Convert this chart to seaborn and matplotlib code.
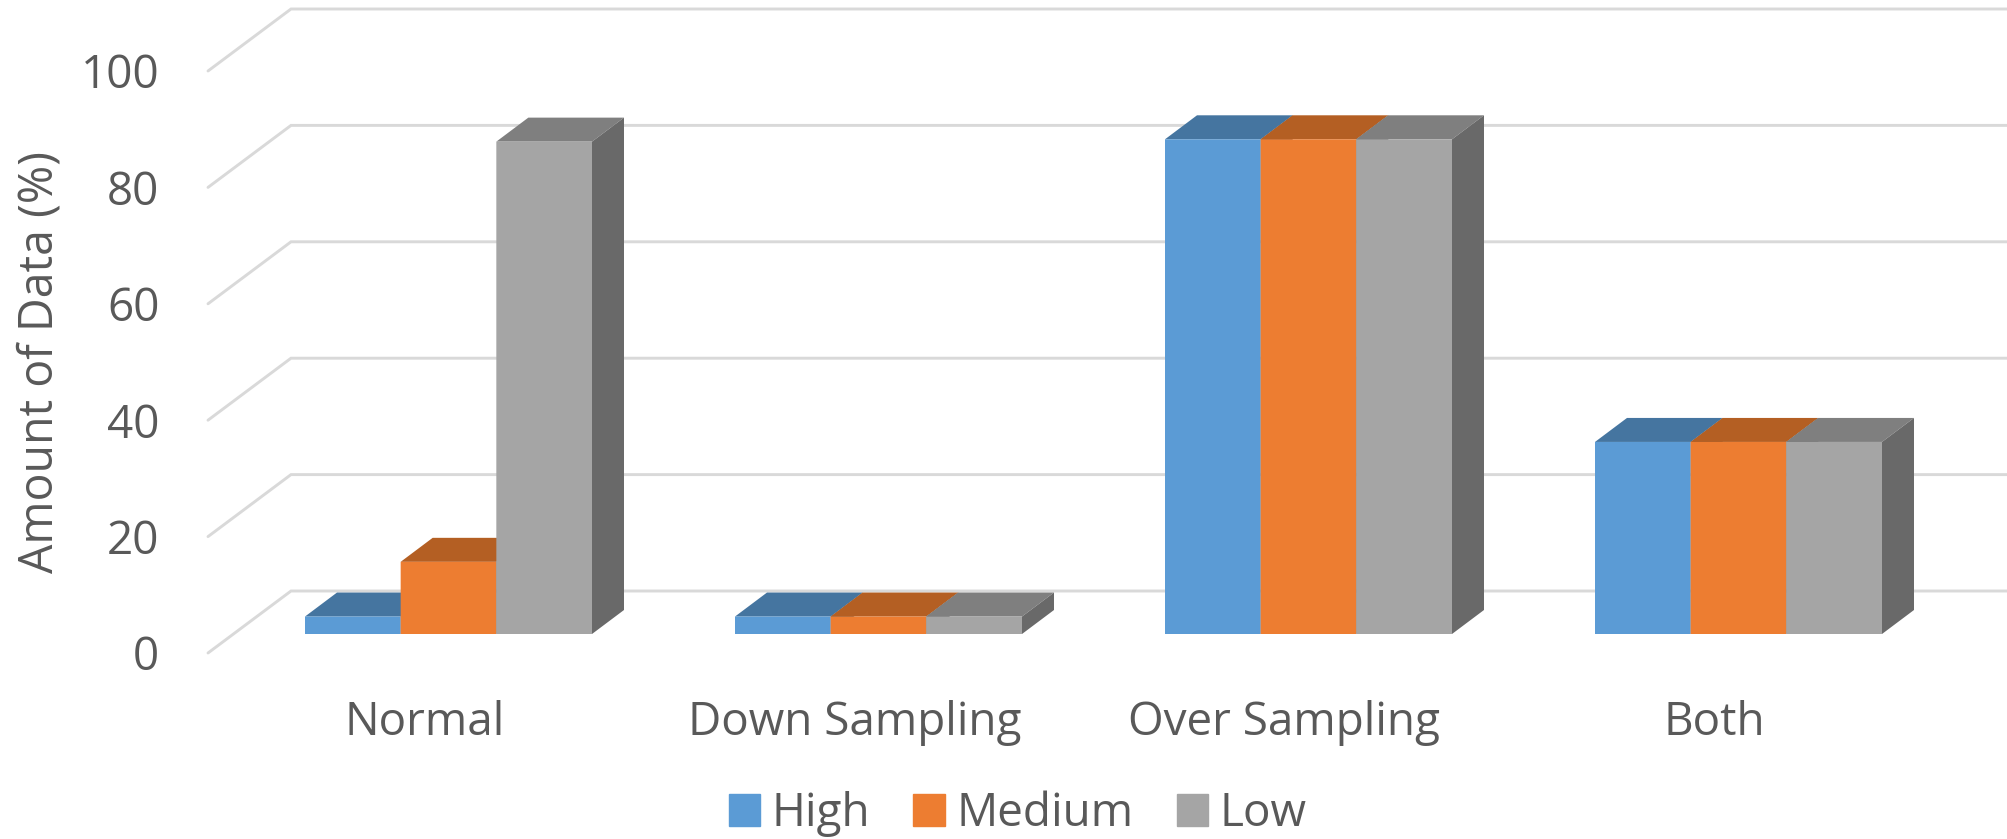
import pandas as pd
import seaborn as sns
import matplotlib.pyplot as plt
from matplotlib.patches import Polygon
from matplotlib.transforms import ScaledTranslation

categories = ['Normal', 'Down Sampling', 'Over Sampling', 'Both']
high = [3, 3, 85, 33]
medium = [12.4, 3, 85, 33]
low = [84.6, 3, 85, 33]
y_ticks = [0, 20, 40, 60, 80, 100]

front_colors = {'High': '#5b9bd5', 'Medium': '#ed7d31', 'Low': '#a5a5a5'}
top_colors = {'High': '#4575a0', 'Medium': '#b45f23', 'Low': '#7f7f7f'}
side_color = '#696969'
text_color = '#595959'
grid_color = '#d9d9d9'

# ── scale of the fake 3D box, in pixels of the 2007x839 output ────
W, H = 2007, 839
PX_X = 430        # px per category
PX_Y = 5.82       # px per percent
BASE_PX = 634     # where bars stand
FLOOR_PX = 653    # where the tick 0 grid line starts
WALL_DX, WALL_DY = 83, 62
BAR_DX, BAR_DY = 32, 24
LEFT_PX = 208
FIRST_PX = 448.5

df = pd.DataFrame({
    'method': categories * 3,
    'level': ['High'] * 4 + ['Medium'] * 4 + ['Low'] * 4,
    'value': high + medium + low,
})

sns.set_style('white')
plt.rcParams['font.family'] = ['Open Sans', 'DejaVu Sans']

fig = plt.figure(figsize=(W / 100, H / 100), dpi=100)
ax = fig.add_axes([LEFT_PX / W, (H - FLOOR_PX) / H, (W - LEFT_PX) / W, (FLOOR_PX - 9) / H])

sns.barplot(data=df, x='method', y='value', hue='level', hue_order=['High', 'Medium', 'Low'],
            palette=front_colors, saturation=1, width=287 / PX_X, gap=0, ax=ax, zorder=4,
            linewidth=0, legend=True)

x_min = (LEFT_PX - FIRST_PX) / PX_X
x_max = (W - FIRST_PX) / PX_X
y_min = (BASE_PX - FLOOR_PX) / PX_Y
y_max = (BASE_PX - 9) / PX_Y
ax.set_xlim(x_min, x_max)
ax.set_ylim(y_min, y_max)

# back wall and side wall grid
for t in y_ticks:
    y = t + y_min
    ax.plot([x_min, x_min + WALL_DX / PX_X, x_max], [y, y + WALL_DY / PX_Y, y + WALL_DY / PX_Y],
            color=grid_color, lw=2.1, zorder=1, clip_on=False, solid_joinstyle='miter')

# top and side faces come from the bars seaborn drew
dx = BAR_DX / PX_X
dy = BAR_DY / PX_Y
for level, container in zip(front_colors, ax.containers):
    for bar in container:
        bar.set_snap(False)
        x0 = bar.get_x()
        x1 = x0 + bar.get_width()
        h = bar.get_height()
        ax.add_patch(Polygon([(x0, h), (x1, h), (x1 + dx, h + dy), (x0 + dx, h + dy)],
                             facecolor=top_colors[level], edgecolor='none', zorder=3))
        ax.add_patch(Polygon([(x1, 0), (x1 + dx, dy), (x1 + dx, h + dy), (x1, h)],
                             facecolor=side_color, edgecolor='none', zorder=3))

ax.set_yticks([t + y_min for t in y_ticks], [str(t) for t in y_ticks])
ax.tick_params(axis='y', length=0, pad=35, labelsize=33, labelcolor=text_color)
ax.tick_params(axis='x', length=0, pad=34, labelsize=33, labelcolor=text_color)

# category labels sit a bit left of their bars
for lab in ax.get_xticklabels():
    lab.set_transform(lab.get_transform() + ScaledTranslation(-24 / 100, 0, fig.dpi_scale_trans))

ax.set_xlabel('')
ax.set_ylabel('Amount of Data (%)', fontsize=33.5, color=text_color)
ax.yaxis.set_label_coords((64 - LEFT_PX) / (W - LEFT_PX), (FLOOR_PX - 362) / (FLOOR_PX - 9))
sns.despine(ax=ax, left=True, bottom=True)

ax.legend_.remove()
handles = [plt.Rectangle((0, 0), 1, 1, color=c) for c in front_colors.values()]
fig.legend(handles, list(front_colors), loc='center', bbox_to_anchor=(0.507, 1 - 814 / H), ncol=3,
           frameon=False, fontsize=33, labelcolor=text_color, handlelength=0.68, handleheight=0.68,
           handletextpad=0.25, columnspacing=0.95)

fig.savefig('out.png', dpi=100, facecolor='white')
